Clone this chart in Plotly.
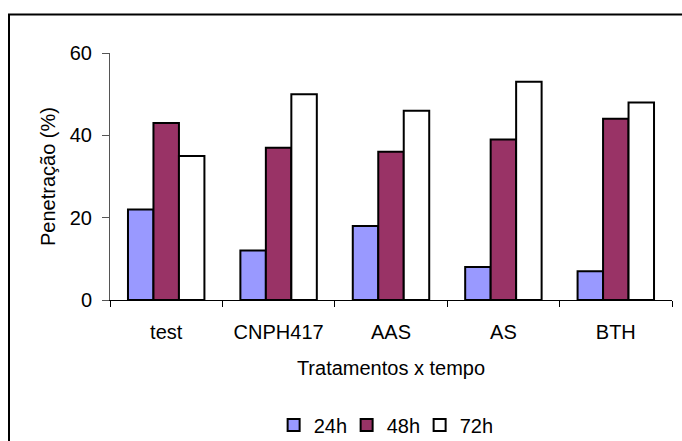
import plotly.graph_objects as go

categories = ["test", "CNPH417", "AAS", "AS", "BTH"]
series_names = ["24h", "48h", "72h"]
values_24h = [22, 12, 18, 8, 7]
values_48h = [43, 37, 36, 39, 44]
values_72h = [35, 50, 46, 53, 48]
series_values = [values_24h, values_48h, values_72h]
colors = ["#9999FF", "#993366", "#FFFFFF"]
y_ticks = [0, 20, 40, 60]

FONT = "Liberation Sans, Arial, sans-serif"

W, H = 682, 441
L, R, T, B = 110, 10, 53, 141
plot_w = W - L - R
plot_h = H - T - B

fig = go.Figure()
for name, vals, col in zip(series_names, series_values, colors):
    fig.add_trace(go.Bar(
        x=categories, y=vals, name=name,
        marker=dict(color=col, line=dict(color="black", width=2)),
    ))

# outer chart frame (runs past the right and bottom edges of the page)
frame = dict(
    type="rect", xref="paper", yref="paper",
    x0=(9 - L) / plot_w, x1=(W + 5 - L) / plot_w,
    y0=(H - B - (H + 5)) / plot_h, y1=(H - B - 14.5) / plot_h,
    line=dict(color="black", width=2), fillcolor="rgba(0,0,0,0)", layer="below",
)

fig.update_layout(
    width=W, height=H,
    margin=dict(l=L, r=R, t=T, b=B, autoexpand=False),
    paper_bgcolor="white", plot_bgcolor="white",
    barmode="group", bargap=0.32, bargroupgap=0,
    font=dict(family=FONT, size=20, color="black"),
    showlegend=True,
    legend=dict(
        orientation="h", x=0.486, xanchor="center",
        y=(H - B - 425) / plot_h, yanchor="middle",
        font=dict(size=20), traceorder="normal",
        itemwidth=30, tracegroupgap=0,
        entrywidth=28, entrywidthmode="pixels",
    ),
    shapes=[frame],
)

fig.update_xaxes(
    type="category", showline=True, linecolor="black", linewidth=1,
    ticks="outside", tickson="boundaries", ticklen=6, tickcolor="black",
    ticklabelstandoff=14, automargin=False,
    title=dict(text="Tratamentos x tempo", standoff=18, font=dict(size=20)),
    showgrid=False, zeroline=False,
)
fig.update_yaxes(
    range=[0, 60], tickvals=y_ticks, showline=True, linecolor="#555555", linewidth=1,
    ticks="outside", ticklen=7, tickcolor="#555555",
    ticklabelstandoff=6, automargin=False,
    title=dict(text="Penetração (%)", standoff=8, font=dict(size=20)),
    showgrid=False, zeroline=False,
)

fig.write_html("out.html")
